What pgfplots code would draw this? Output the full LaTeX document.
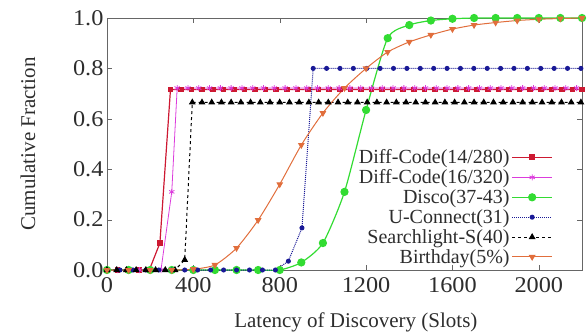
\documentclass[border=0pt]{standalone}
\usepackage{pgfplots}
\pgfplotsset{compat=1.18}
\usepackage{fontspec}
\setmainfont{Liberation Serif}
\newfontfamily\tickfont[FakeStretch=1.08]{Liberation Serif}
\definecolor{cred}{RGB}{205,25,50}
\definecolor{cmag}{RGB}{220,60,220}
\definecolor{cgreen}{RGB}{50,220,50}
\definecolor{cblue}{RGB}{25,25,150}
\definecolor{corange}{RGB}{225,110,60}
\definecolor{txt}{RGB}{45,45,45}
\begin{document}
\begin{tikzpicture}
\begin{axis}[
  at={(0,0)}, anchor=south west,
  scale only axis, width=475pt, height=252pt,
  xmin=0, xmax=2200, ymin=0, ymax=1,
  xtick={0,400,800,1200,1600,2000},
  ytick={0,0.2,0.4,0.6,0.8,1.0},
  yticklabel style={/pgf/number format/fixed,/pgf/number format/fixed zerofill,/pgf/number format/precision=1},
  /pgf/number format/assume math mode=true,
  scaled x ticks=false,
  xticklabel style={/pgf/number format/1000 sep={}, yshift=-4pt},
  tick align=inside, major tick length=5pt,
  tick style={color=black!60},
  axis line style={color=black!60},
  ticklabel style={font=\tickfont\fontsize{22.5}{23}\selectfont, text=txt},
  xlabel={Latency of Discovery (Slots)},
  ylabel={Cumulative Fraction},
  every axis x label/.style={at={([yshift=-52pt]axis description cs:0.524,0)},anchor=center,font=\fontsize{21}{22}\selectfont, text=txt},
  every axis y label/.style={at={([xshift=-79pt]axis description cs:0,0.5)},rotate=90,anchor=center,font=\fontsize{21}{22}\selectfont, text=txt},
  clip=false,
  legend style={draw=none, fill=none, at={(0.945,0.495)}, anchor=north east,
    font=\fontsize{20}{20}\selectfont, text=txt, legend cell align=right,
    row sep=0.5pt},
  legend plot pos=right,
  legend image code/.code={\draw[mark repeat=2,mark phase=2] plot coordinates {(0cm,0cm) (0.7cm,0cm) (1.4cm,0cm)};},
]
% Diff-Code(14/280)
\addplot[cred, line width=1.2pt, mark=square*, mark size=2.2pt, mark options={solid}] coordinates {
(0,0)(49,0)(98,0)(147,0)(196,0)(245,0.107)(294,0.716)(343,0.716)(392,0.716)(441,0.716)(490,0.716)(539,0.716)(588,0.716)(637,0.716)(686,0.716)(735,0.716)(784,0.716)(833,0.716)(882,0.716)(931,0.716)(980,0.716)(1029,0.716)(1078,0.716)(1127,0.716)(1176,0.716)(1225,0.716)(1274,0.716)(1323,0.716)(1372,0.716)(1421,0.716)(1470,0.716)(1519,0.716)(1568,0.716)(1617,0.716)(1666,0.716)(1715,0.716)(1764,0.716)(1813,0.716)(1862,0.716)(1911,0.716)(1960,0.716)(2009,0.716)(2058,0.716)(2107,0.716)(2156,0.716)(2200,0.716)};
\addlegendentry{Diff-Code(14/280)}
% Diff-Code(16/320)
\addplot[cmag, line width=0.8pt, mark=asterisk, mark size=3pt, mark options={solid}] coordinates {
(0,0)(50,0)(100,0)(150,0)(200,0)(250,0)(300,0.31)(325,0.722)(375,0.722)(425,0.722)(475,0.722)(525,0.722)(575,0.722)(625,0.722)(675,0.722)(725,0.722)(775,0.722)(825,0.722)(875,0.722)(925,0.722)(975,0.722)(1025,0.722)(1075,0.722)(1125,0.722)(1175,0.722)(1225,0.722)(1275,0.722)(1325,0.722)(1375,0.722)(1425,0.722)(1475,0.722)(1525,0.722)(1575,0.722)(1625,0.722)(1675,0.722)(1725,0.722)(1775,0.722)(1825,0.722)(1875,0.722)(1925,0.722)(1975,0.722)(2025,0.722)(2075,0.722)(2125,0.722)(2175,0.722)};
\addlegendentry{Diff-Code(16/320)}
% Disco
\addplot[cgreen, line width=1.2pt, smooth, tension=0.4, mark=*, mark size=3.5pt, mark options={solid}] coordinates {
(0,0)(100,0)(200,0)(300,0)(400,0)(500,0)(600,0)(700,0)(800,0)(900,0.03)(1000,0.107)(1100,0.31)(1200,0.635)(1300,0.92)(1400,0.972)(1500,0.99)(1600,0.997)(1700,1)(1800,1)(1900,1)(2000,1)(2100,1)(2200,1)};
\addlegendentry{Disco(37-43)}
% U-Connect
\addplot[cblue, line width=1pt, densely dotted, mark=*, mark size=2pt, mark options={solid}] coordinates {
(0,0)(60,0)(120,0)(180,0)(240,0)(300,0)(360,0)(420,0)(480,0)(540,0)(600,0)(660,0)(720,0)(780,0)(840,0.035)(903,0.167)(955,0.80)(1017,0.80)(1079,0.80)(1141,0.80)(1203,0.80)(1265,0.80)(1327,0.80)(1389,0.80)(1451,0.80)(1513,0.80)(1575,0.80)(1637,0.80)(1699,0.80)(1761,0.80)(1823,0.80)(1885,0.80)(1947,0.80)(2009,0.80)(2071,0.80)(2133,0.80)(2195,0.80)};
\addlegendentry{U-Connect(31)}
% Searchlight-S
\addplot[black, line width=1pt, dashed, mark=triangle*, mark size=3pt, mark options={solid}] coordinates {
(0,0)(45,0)(90,0)(135,0)(180,0)(225,0)(270,0)(315,0)(360,0.04)(395,0.665)(440,0.665)(485,0.665)(530,0.665)(575,0.665)(620,0.665)(665,0.665)(710,0.665)(755,0.665)(800,0.665)(845,0.665)(890,0.665)(935,0.665)(980,0.665)(1025,0.665)(1070,0.665)(1115,0.665)(1160,0.665)(1205,0.665)(1250,0.665)(1295,0.665)(1340,0.665)(1385,0.665)(1430,0.665)(1475,0.665)(1520,0.665)(1565,0.665)(1610,0.665)(1655,0.665)(1700,0.665)(1745,0.665)(1790,0.665)(1835,0.665)(1880,0.665)(1925,0.665)(1970,0.665)(2015,0.665)(2060,0.665)(2105,0.665)(2150,0.665)(2195,0.665)};
\addlegendentry{Searchlight-S(40)}
% Birthday
\addplot[corange, line width=1pt, smooth, tension=0.4, mark=triangle*, mark size=3pt, mark options={solid, rotate=180}] coordinates {
(0,0)(100,0)(200,0)(300,0)(400,0.003)(500,0.02)(600,0.087)(700,0.198)(800,0.34)(900,0.496)(1000,0.623)(1100,0.722)(1200,0.80)(1300,0.865)(1400,0.905)(1500,0.933)(1600,0.956)(1700,0.972)(1800,0.982)(1900,0.99)(2000,0.995)(2100,0.998)(2200,1.0)};
\addlegendentry{Birthday(5\%)}
\end{axis}
\pgfresetboundingbox
\useasboundingbox (-107pt,-65pt) rectangle (480pt,270pt);
\end{tikzpicture}
\end{document}
